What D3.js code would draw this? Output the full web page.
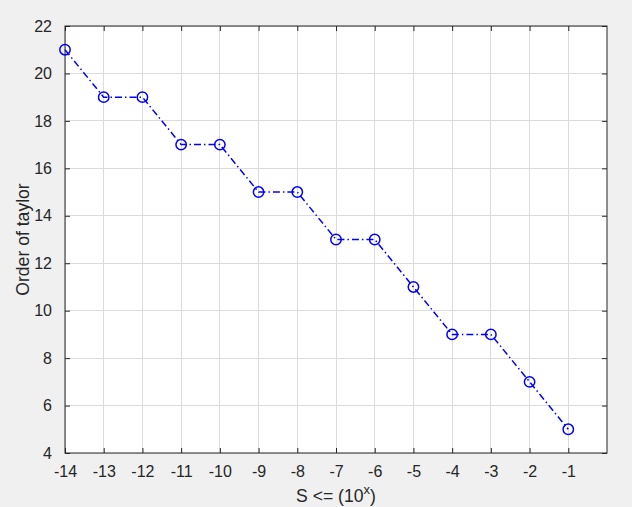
<!DOCTYPE html>
<html><head><meta charset="utf-8">
<script src="https://cdn.jsdelivr.net/npm/d3@7"></script>
<style>body{margin:0;background:#f0f0f0;}svg{display:block;}</style>
</head><body>
<script>
const xValues = [-14,-13,-12,-11,-10,-9,-8,-7,-6,-5,-4,-3,-2,-1];
const orderValues = [21,19,19,17,17,15,15,13,13,11,9,9,7,5];
const xTicks = [-14,-13,-12,-11,-10,-9,-8,-7,-6,-5,-4,-3,-2,-1];
const yTicks = [4,6,8,10,12,14,16,18,20,22];

const W = 632, H = 507;
const L = 65, T = 26, R = 607, B = 453;
const svg = d3.select("body").append("svg").attr("width", W).attr("height", H);
svg.append("rect").attr("width", W).attr("height", H).attr("fill", "#f0f0f0");
svg.append("rect").attr("x", L).attr("y", T).attr("width", R - L).attr("height", B - T).attr("fill", "#fff");

const x = d3.scaleLinear().domain([-14, 0]).range([L, R]);
const y = d3.scaleLinear().domain([4, 22]).range([B, T]);
const font = "Arial, 'Liberation Sans', Helvetica, sans-serif";
const fmt = d => String(d);

// grid
svg.append("g").selectAll("line").data(xTicks).join("line")
  .attr("x1", d => x(d)).attr("x2", d => x(d)).attr("y1", T).attr("y2", B)
  .attr("stroke", "#dcdcdc").attr("stroke-width", 1).attr("shape-rendering", "crispEdges");
svg.append("g").selectAll("line").data(yTicks).join("line")
  .attr("x1", L).attr("x2", R).attr("y1", d => y(d)).attr("y2", d => y(d))
  .attr("stroke", "#dcdcdc").attr("stroke-width", 1).attr("shape-rendering", "crispEdges");

// axes
const ax = svg.append("g").attr("transform", `translate(0,${B})`)
  .call(d3.axisBottom(x).tickValues(xTicks).tickSizeInner(-5).tickSizeOuter(0).tickPadding(13).tickFormat(fmt));
const axTop = svg.append("g").attr("transform", `translate(0,${T})`)
  .call(d3.axisTop(x).tickValues(xTicks).tickSizeInner(-5).tickSizeOuter(0).tickFormat(""));
const ay = svg.append("g").attr("transform", `translate(${L},0)`)
  .call(d3.axisLeft(y).tickValues(yTicks).tickSizeInner(-5).tickSizeOuter(0).tickPadding(13).tickFormat(fmt));
const ayR = svg.append("g").attr("transform", `translate(${R},0)`)
  .call(d3.axisRight(y).tickValues(yTicks).tickSizeInner(-5).tickSizeOuter(0).tickFormat(""));
[ax, axTop, ay, ayR].forEach(g => {
  g.selectAll(".domain").remove();
  g.selectAll("line").attr("stroke", "#262626").attr("stroke-width", 1);
  g.selectAll("text").attr("fill", "#262626").style("font-family", font).style("font-size", "16px");
});
svg.append("rect").attr("x", L).attr("y", T).attr("width", R - L).attr("height", B - T)
  .attr("fill", "none").attr("stroke", "#262626").attr("stroke-width", 1);

// data line
const pts = xValues.map((v, i) => [v, orderValues[i]]);
svg.append("path").datum(pts)
  .attr("d", d3.line().x(d => x(d[0])).y(d => y(d[1])))
  .attr("fill", "none").attr("stroke", "#0000ff").attr("stroke-width", 1.5)
  .attr("stroke-dasharray", "7,3,1.5,3");
svg.append("g").selectAll("circle").data(pts).join("circle")
  .attr("cx", d => x(d[0])).attr("cy", d => y(d[1])).attr("r", 5.2)
  .attr("fill", "none").attr("stroke", "#0000ff").attr("stroke-width", 1.5);

// labels
const xl = svg.append("text").attr("x", (L + R) / 2).attr("y", 502)
  .attr("text-anchor", "middle").attr("fill", "#262626")
  .style("font-family", font).style("font-size", "17.6px");
xl.append("tspan").text("S <= (10");
xl.append("tspan").attr("dy", -8).style("font-size", "13px").text("x");
xl.append("tspan").attr("dy", 8).text(")");

svg.append("text").attr("transform", `translate(29,${(T + B) / 2}) rotate(-90)`)
  .attr("text-anchor", "middle").attr("fill", "#262626")
  .style("font-family", font).style("font-size", "17.6px").text("Order of taylor");
</script>
</body></html>
